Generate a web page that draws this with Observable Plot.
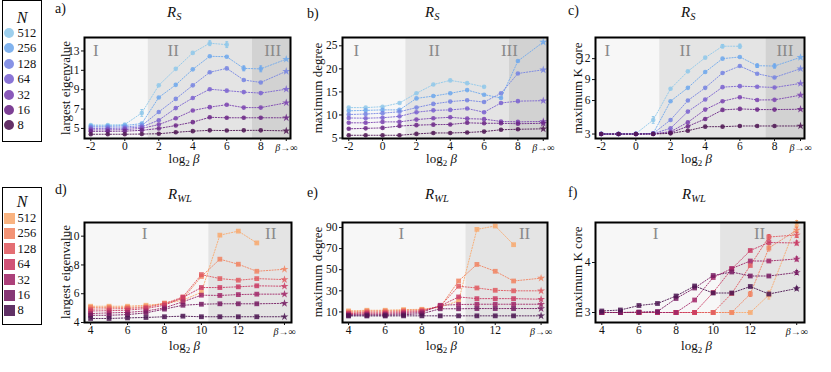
<!DOCTYPE html>
<html><head><meta charset="utf-8">
<script src="https://cdn.jsdelivr.net/npm/d3@7"></script>
<script src="https://cdn.jsdelivr.net/npm/@observablehq/plot@0.6"></script>
<style>
body{margin:0;background:#fff;}
#fig{position:relative;width:831px;height:372px;overflow:hidden;font-family:"Liberation Serif","DejaVu Serif",serif;color:#111;}
.abs{position:absolute;white-space:nowrap;line-height:1;}
.ylab{font-size:13px;transform:translate(-50%,-50%) rotate(-90deg);}
.xlab{font-size:13px;transform:translate(-50%,-50%);}
.ttl{font-size:15px;}
.ttl sub{font-size:10.5px;vertical-align:baseline;position:relative;top:3px;}
.xlab sub{font-size:9px;vertical-align:baseline;position:relative;top:3px;}
.plab{font-size:14px;transform:translateY(-50%);}
</style></head><body><div id="fig"></div>
<script>
// ---------------- data ----------------
const sizes = ["512","256","128","64","32","16","8"];
const coolColors = ["#8fc8ea","#6fa8ec","#7684e2","#7a62d0","#7b43b0","#6b2686","#4e1552"];
const warmColors = ["#f8a96e","#f18462","#e05a60","#c93a63","#a12768","#761b62","#4a1450"];
const betaS = [-2,-1,0,1,2,3,4,5,6,7,8,Infinity];
const betaWL = [4,5,6,7,8,9,10,11,12,13,Infinity];
const xTicksS = [-2,0,2,4,6,8];
const xTicksWL = [4,6,8,10,12];

// R_S : largest eigenvalue (rows follow sizes)
const eigS = [
  [5.35,5.35,5.4,6.6,9.45,11.15,12.8,13.8,13.65,null,null,null],
  [5.25,5.25,5.3,5.5,8.2,9.5,11.1,12.45,12.4,11.2,11.15,12.15],
  [5.15,5.15,5.15,5.3,6.7,8.05,9.45,10.8,11.2,10.0,9.75,10.9],
  [5.0,5.0,5.02,5.15,5.85,7.1,8.15,9.05,8.9,8.75,8.65,9.05],
  [4.85,4.85,4.88,5.0,5.4,6.05,6.85,7.2,7.45,7.15,7.15,7.65],
  [4.7,4.7,4.72,4.8,5.0,5.3,5.65,6.15,6.1,6.1,6.1,6.1],
  [4.4,4.4,4.4,4.42,4.45,4.6,4.72,4.8,4.78,4.8,4.8,4.75]
];
const eigSErr = [["512",1,0.35],["512",5,0.25],["512",6,0.3],["256",7,0.25],["256",8,0.3]];

// R_S : maximum degree
const degS = [
  [11.6,11.6,11.8,12.6,14.7,16.6,17.5,16.9,16.1,null,null,null],
  [10.9,11.0,11.1,11.1,13.6,14.1,14.7,15.4,14.4,13.7,21.7,25.8],
  [10.1,10.2,10.4,10.7,11.6,12.4,12.9,13.2,12.8,14.7,19.0,19.8],
  [9.35,9.3,9.4,9.7,10.6,11.0,11.1,11.4,10.6,12.6,13.0,13.1],
  [8.3,8.3,8.5,8.5,9.0,9.3,9.5,9.2,9.1,8.6,8.5,8.6],
  [7.0,7.1,7.2,7.6,7.8,7.9,7.95,8.3,8.2,8.2,8.1,8.2],
  [5.6,5.6,5.6,5.6,5.9,6.1,6.1,6.2,6.4,6.8,6.9,7.0]
];
const degSErr = [];

// R_S : maximum K core
const kcoreS = [
  [3.02,3.01,3.03,4.26,7.68,10.18,12.14,13.78,13.78,null,null,null],
  [3.01,3.0,3.02,3.06,5.94,7.82,10.08,12.0,12.24,10.99,10.94,12.19],
  [3.0,3.0,3.01,3.05,4.26,6.0,7.82,9.94,10.94,9.84,9.31,10.56],
  [3.0,3.0,3.0,3.04,3.51,5.01,6.14,7.92,8.06,7.97,7.87,8.45],
  [3.0,3.0,3.0,3.02,3.21,4.05,5.19,5.94,6.48,6.08,6.1,6.77],
  [3.0,3.0,3.0,3.01,3.12,3.69,4.35,5.16,5.25,5.19,5.19,5.22],
  [3.0,3.0,3.0,3.0,3.06,3.3,3.66,3.66,3.72,3.72,3.72,3.72]
];
const kcoreSErr = [["512",1,0.3],["512",5,0.25],["512",6,0.3],["256",7,0.25],["256",8,0.3]];

// R_WL : largest eigenvalue
const eigWL = [
  [5.13,5.13,5.13,5.2,5.3,5.55,6.1,10.07,10.35,9.53,null],
  [5.05,5.05,5.05,5.1,5.35,5.65,7.2,8.4,8.05,7.56,7.7],
  [4.93,4.95,4.97,5.05,5.3,5.78,7.33,7.05,6.94,7.05,6.98],
  [4.8,4.82,4.86,4.97,5.2,5.74,6.43,6.43,6.48,6.55,6.52],
  [4.62,4.67,4.7,4.8,5.02,5.44,5.9,5.88,5.94,5.97,5.97],
  [4.5,4.5,4.55,4.67,4.93,5.2,5.27,5.3,5.3,5.3,5.33],
  [4.28,4.28,4.32,4.35,4.4,4.44,4.4,4.4,4.4,4.4,4.4]
];
const eigWLErr = [];

// R_WL : maximum degree
const degWL = [
  [11,11.6,11.6,12.2,12.5,14.7,20.4,88.2,91.4,73.7,null],
  [10,10.8,10.8,11.5,12,14.7,39.3,55,48.5,39.3,42],
  [9,9.8,9.8,10.5,11.3,15.4,34.3,32.7,30.5,30,30],
  [8.4,8.8,8.8,9.5,10.5,15.7,24.2,22.6,22.6,22.6,22],
  [7.5,7.8,7.8,8.5,9.5,16.3,17,17.3,17.3,17.3,17.3],
  [6.8,7,7,7.4,8.3,13,13,13.2,13.2,13.2,13.2],
  [6.2,6.2,6.2,6.3,6.3,6.3,6.3,6.3,6.3,6.3,6.3]
];
const degWLErr = [];

// R_WL : maximum K core
const kcoreWL = [
  [3.0,3.0,3.0,3.0,3.0,3.0,3.0,3.0,3.0,3.35,4.78],
  [3.0,3.0,3.0,3.0,3.0,3.0,3.0,3.0,3.37,4.29,4.65],
  [3.0,3.0,3.0,3.0,3.0,3.0,3.0,3.38,3.94,4.51,4.55],
  [3.0,3.0,3.0,3.0,3.0,3.0,3.4,3.87,4.24,4.4,4.39],
  [3.0,3.0,3.0,3.0,3.0,3.25,3.7,3.88,4.03,4.03,4.07],
  [3.0,3.0,3.01,3.02,3.28,3.49,3.74,3.81,3.73,3.73,3.8],
  [3.03,3.05,3.14,3.18,3.33,3.53,3.39,3.39,3.52,3.37,3.48]
];
const kcoreWLErr = [["512",13,0.08],["512",Infinity,0.06],["256",12,0.05],["256",13,0.06],["256",Infinity,0.05],
  ["128",13,0.05],["128",Infinity,0.05],["64",Infinity,0.04],["32",Infinity,0.04],["16",Infinity,0.04],["8",Infinity,0.03]];

// ---------------- drawing ----------------
const fig = document.getElementById("fig");
const serif = '"Liberation Serif","DejaVu Serif",serif';
const capSymbol = {draw(ctx, size){ const w = Math.sqrt(size) / 2; ctx.moveTo(-w, 0); ctx.lineTo(w, 0); }};
const identity = v => v;
// panel c axis: the segment below 6 is drawn stretched (as in the source figure)
const warpK = v => v >= 6 ? v : 6 - (6 - v) * 1.6;

function addHTML(html, cls, left, top) {
  const d = document.createElement("div");
  d.className = "abs " + cls;
  d.style.left = left + "px";
  d.style.top = top + "px";
  d.innerHTML = html;
  fig.appendChild(d);
  return d;
}

function drawPanel(p) {
  const w = p.warp || identity;
  const rows = [];
  sizes.forEach((N, i) => p.betas.forEach((b, j) => {
    const v = p.values[i][j];
    if (v != null) rows.push({N, x: Number.isFinite(b) ? b : p.inf, y: w(v), inf: !Number.isFinite(b)});
  }));
  const errs = p.errors.map(([N, b, e]) => {
    const v = p.values[sizes.indexOf(N)][p.betas.indexOf(b)];
    return {N, x: Number.isFinite(b) ? b : p.inf, y1: w(v - e), y2: w(v + e)};
  });
  const caps = errs.flatMap(d => [{N: d.N, x: d.x, y: d.y1}, {N: d.N, x: d.x, y: d.y2}]);
  const ylo = w(p.yDomain[0]), yhi = w(p.yDomain[1]);
  const tickLabel = new Map(p.yTicks.map(t => [w(t), String(t)]));
  const mL = 30, mR = 4, mT = 4, mB = 24;
  const svg = Plot.plot({
    width: p.w + mL + mR, height: p.h + mT + mB,
    marginLeft: mL, marginRight: mR, marginTop: mT, marginBottom: mB,
    x: {domain: p.xDomain},
    y: {domain: [ylo, yhi]},
    color: {type: "ordinal", domain: sizes, range: p.colors},
    style: {fontFamily: serif, background: "transparent", overflow: "visible", color: "#111"},
    marks: [
      ...p.regions.map(([a, b, c]) => Plot.rect([0], {x1: () => a, x2: () => b, y1: () => ylo, y2: () => yhi, fill: c})),
      Plot.text(p.regionLabels, {x: d => d[1], text: d => d[0], frameAnchor: "top", dy: p.labelDy, fontSize: 17, fill: "#8a8a8a", lineAnchor: "middle"}),
      Plot.line(rows, {x: "x", y: "y", z: "N", stroke: "N", strokeWidth: 1, strokeDasharray: "1.2 1.6", strokeOpacity: 0.9}),
      Plot.ruleX(errs, {x: "x", y1: "y1", y2: "y2", stroke: "N", strokeWidth: 1}),
      Plot.dot(caps, {x: "x", y: "y", symbol: capSymbol, r: 1.6, stroke: "N", fill: "none", strokeWidth: 1}),
      Plot.dot(rows.filter(d => !d.inf), {x: "x", y: "y", fill: "N", symbol: p.symbol, r: p.r, fillOpacity: 0.85}),
      Plot.dot(rows.filter(d => d.inf), {x: "x", y: "y", fill: "N", symbol: "star", r: p.rStar, fillOpacity: 0.85}),
      Plot.frame({stroke: "#000", strokeWidth: 2}),
      Plot.axisX({ticks: [...p.xTicks, p.inf], tickFormat: d => d === p.inf ? "" : String(d), tickSize: 3, tickPadding: 0, fontSize: 11.5, label: null}),
      Plot.text([p.inf], {x: d => d, text: () => "β→∞", frameAnchor: "bottom", dy: 9, fontSize: 10, fontStyle: "italic", lineAnchor: "middle"}),
      Plot.axisY({ticks: [...tickLabel.keys()], tickFormat: d => tickLabel.get(d), tickSize: 3, tickPadding: 2, fontSize: 11.5, label: null})
    ]
  });
  svg.style.position = "absolute";
  svg.style.left = (p.left - mL) + "px";
  svg.style.top = (p.top - mT) + "px";
  fig.appendChild(svg);
  // labels
  addHTML(p.ylabel, "ylab", p.ylabX, p.top + p.h / 2);
  addHTML("log<sub>2</sub> <i>β</i>", "xlab", p.left + p.w / 2 - 3, p.xlabY);
  addHTML(p.title, "ttl", p.titleX, p.titleY);
  addHTML(p.letter, "plab", p.letterX, p.letterY);
}

const titleS = "<i>R</i><sub><i>S</i></sub>";
const titleWL = "<i>R</i><sub><i>WL</i></sub>";
const regS = (lo, hi) => [[lo, 1.375, "#f7f7f7"], [1.375, 7.5, "#e4e4e4"], [7.5, hi, "#d2d2d2"]];
const regWL = (lo, hi) => [[lo, 10.4, "#f7f7f7"], [10.4, hi, "#e4e4e4"]];

const top1 = {betas: betaS, inf: 9.5, xTicks: xTicksS, colors: coolColors, symbol: "circle", r: 2.3, rStar: 2.5, top: 37, h: 101, labelDy: 13, xlabY: 158, titleY: 5};
const top2 = {betas: betaWL, inf: 14.5, xTicks: xTicksWL, colors: warmColors, symbol: "square", r: 2.7, rStar: 2.5, top: 222, h: 100, labelDy: 11.5, xlabY: 344.5, titleY: 187};

drawPanel({...top1, values: eigS, errors: eigSErr, left: 84, w: 206, xDomain: [-2.37, 9.75], yDomain: [3.96, 14.39], yTicks: [5,7,9,11,13],
  regions: regS(-2.37, 9.75), regionLabels: [["I",-1.7],["II",2.85],["III",8.7]], ylabel: "largest eigenvalue", ylabX: 65, title: titleS, titleX: 167, letter: "a)", letterX: 55, letterY: 9});
drawPanel({...top1, values: degS, errors: degSErr, left: 342, w: 205, xDomain: [-2.37, 9.75], yDomain: [4.9, 26.8], yTicks: [5,10,15,20,25],
  regions: regS(-2.37, 9.75), regionLabels: [["I",-1.55],["II",3.05],["III",7.5]], ylabel: "maximum degree", ylabX: 317, title: titleS, titleX: 425, letter: "b)", letterX: 307, letterY: 14});
drawPanel({...top1, values: kcoreS, errors: kcoreSErr, left: 595, w: 209, xDomain: [-2.33, 9.73], yDomain: [2.6, 15.03], warp: warpK, yTicks: [3,6,9,12],
  regions: regS(-2.33, 9.73), regionLabels: [["I",-1.65],["II",2.85],["III",8.6]], ylabel: "maximum K core", ylabX: 577, title: titleS, titleX: 681, letter: "c)", letterX: 568, letterY: 11});

drawPanel({...top2, values: eigWL, errors: eigWLErr, left: 84, w: 207, xDomain: [3.67, 14.88], yDomain: [4.0, 10.95], yTicks: [4,6,8,10],
  regions: regWL(3.67, 14.88), regionLabels: [["I",6.93],["II",13.75]], ylabel: "largest eigenvalue", ylabX: 65, title: titleWL, titleX: 168, letter: "d)", letterX: 55, letterY: 190});
drawPanel({...top2, values: degWL, errors: degWLErr, left: 342, w: 205, xDomain: [3.67, 14.85], yDomain: [0, 94.7], yTicks: [10,30,50,70,90],
  regions: regWL(3.67, 14.85), regionLabels: [["I",6.88],["II",13.6]], ylabel: "maximum degree", ylabX: 317, title: titleWL, titleX: 425, letter: "e)", letterX: 307, letterY: 193});
drawPanel({...top2, values: kcoreWL, errors: kcoreWLErr, left: 595, w: 209, xDomain: [3.66, 14.92], yDomain: [2.8, 4.8], yTicks: [3,4],
  regions: regWL(3.66, 14.92), regionLabels: [["I",6.9],["II",12.5]], ylabel: "maximum K core", ylabX: 577, title: titleWL, titleX: 682, letter: "f)", letterX: 568, letterY: 193});

// ---------------- legends ----------------
function legend(top, height, nY, rowY0, colors, square) {
  const box = document.createElement("div");
  box.style.cssText = `position:absolute;left:2px;top:${top}px;width:40px;height:${height}px;border:1.5px solid #000;box-sizing:border-box;background:#fff;`;
  fig.appendChild(box);
  addHTML("<i>N</i>", "", 22, nY).style.cssText += "font-size:16px;transform:translate(-50%,-50%);";
  sizes.forEach((N, i) => {
    const cy = rowY0 + i * 15.4;
    const sw = document.createElement("div");
    const s = square ? 11 : 10;
    sw.style.cssText = `position:absolute;left:${(square ? 9.5 : 8.5) - s / 2}px;top:${cy - s / 2}px;width:${s}px;height:${s}px;background:${colors[i]};opacity:0.88;border-radius:${square ? 0 : 50}%;`;
    fig.appendChild(sw);
    addHTML(N, "", 17.5, cy).style.cssText += "font-size:12.5px;transform:translateY(-50%);";
  });
}
legend(0, 142, 18, 33, coolColors, false);
legend(187, 138, 202, 218, warmColors, true);
</script></body></html>
